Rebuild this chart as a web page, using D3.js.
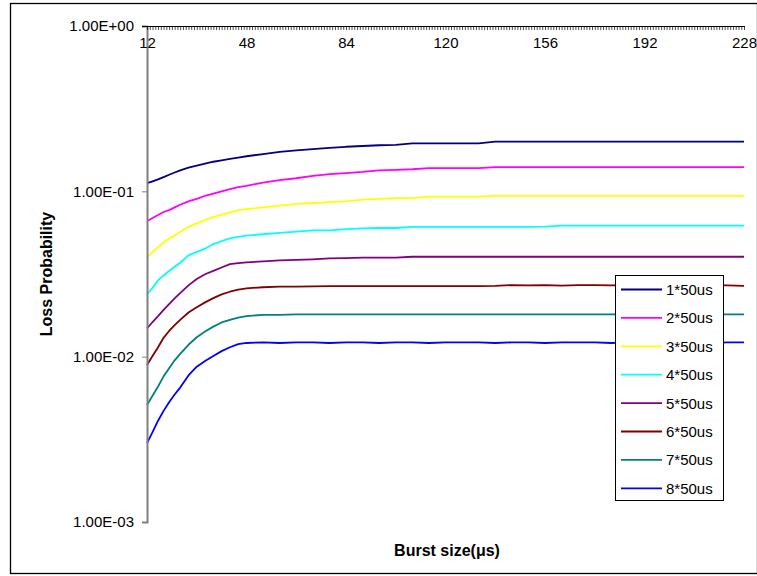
<!DOCTYPE html>
<html>
<head>
<meta charset="utf-8">
<script src="https://cdn.jsdelivr.net/npm/d3@7"></script>
<style>
  body { margin: 0; background: #fff; }
  svg { display: block; font-family: Arial, "Liberation Sans", sans-serif; }
</style>
</head>
<body>
<svg id="chart" width="757" height="576"></svg>
<script>
// ---- data ----
const burstSizes = [12,14,16,18,20,22,24,27,30,33,36,39,42,45,48,54,60,66,72,78,84,90,96,102,108,114,120,126,132,138,144,150,156,162,168,174,180,186,192,198,204,210,216,222,228];

const seriesNames = ["1*50us","2*50us","3*50us","4*50us","5*50us","6*50us","7*50us","8*50us"];
const seriesColors = ["#000080","#FF00FF","#FFFF00","#00FFFF","#800080","#800000","#008080","#0000FF"];

const s1 = [0.112,0.115,0.118,0.122,0.126,0.130,0.134,0.139,0.143,0.147,0.151,0.154,0.157,0.160,0.163,0.168,0.173,0.177,0.180,0.183,0.186,0.188,0.190,0.191,0.195,0.195,0.195,0.195,0.195,0.200,0.200,0.200,0.200,0.200,0.200,0.200,0.200,0.200,0.200,0.200,0.200,0.200,0.200,0.200,0.200];
const s2 = [0.066,0.069,0.072,0.075,0.077,0.080,0.083,0.087,0.090,0.094,0.097,0.100,0.103,0.106,0.108,0.113,0.117,0.120,0.124,0.127,0.129,0.131,0.134,0.135,0.136,0.138,0.138,0.138,0.138,0.140,0.140,0.140,0.140,0.140,0.140,0.140,0.140,0.140,0.140,0.140,0.140,0.140,0.140,0.140,0.140];
const s3 = [0.040,0.043,0.046,0.049,0.052,0.054,0.057,0.061,0.064,0.067,0.070,0.072,0.0745,0.0766,0.078,0.080,0.082,0.084,0.085,0.086,0.087,0.089,0.090,0.091,0.091,0.093,0.093,0.093,0.093,0.094,0.094,0.094,0.094,0.094,0.094,0.094,0.094,0.094,0.094,0.094,0.094,0.094,0.094,0.094,0.094];
const s4 = [0.024,0.026,0.029,0.031,0.033,0.035,0.037,0.041,0.043,0.045,0.048,0.050,0.052,0.053,0.054,0.055,0.056,0.057,0.058,0.058,0.059,0.0597,0.060,0.060,0.061,0.061,0.061,0.061,0.061,0.061,0.061,0.061,0.0612,0.062,0.062,0.062,0.062,0.062,0.062,0.062,0.062,0.062,0.062,0.062,0.062];
const s5 = [0.0148,0.0162,0.0176,0.0192,0.0208,0.0225,0.0242,0.0270,0.0295,0.0315,0.0330,0.0346,0.0363,0.0368,0.0372,0.0377,0.0382,0.0385,0.0388,0.0393,0.0395,0.0397,0.0397,0.0397,0.0402,0.0402,0.0402,0.0402,0.0402,0.0402,0.0402,0.0402,0.0402,0.0402,0.0402,0.0402,0.0402,0.0402,0.0402,0.0402,0.0402,0.0402,0.0402,0.0402,0.0402];
const s6 = [0.0089,0.0101,0.0114,0.0130,0.0143,0.0155,0.0167,0.0185,0.0199,0.0213,0.0226,0.0238,0.0247,0.0254,0.0259,0.0263,0.0265,0.0265,0.0266,0.0267,0.0267,0.0267,0.0267,0.0267,0.0267,0.0267,0.0267,0.0267,0.0267,0.0268,0.0271,0.0270,0.0271,0.0269,0.0271,0.0271,0.0270,0.0271,0.0270,0.0271,0.0270,0.0271,0.0271,0.0270,0.0268];
const s7 = [0.0051,0.0058,0.0066,0.0076,0.0085,0.0095,0.0104,0.0118,0.0131,0.0142,0.0152,0.0161,0.0167,0.0172,0.0176,0.0179,0.0179,0.0180,0.0180,0.0180,0.0180,0.0180,0.0180,0.0180,0.0180,0.0180,0.0180,0.0180,0.0180,0.0180,0.0180,0.0180,0.0180,0.0180,0.0180,0.0180,0.0180,0.0180,0.0180,0.0180,0.0180,0.0180,0.0180,0.0180,0.0180];
const s8 = [0.0030,0.0035,0.0041,0.0047,0.0053,0.0059,0.0065,0.0077,0.0087,0.0094,0.0101,0.0108,0.0114,0.0119,0.0121,0.0122,0.0121,0.0122,0.0122,0.0121,0.0122,0.0122,0.0121,0.0122,0.0122,0.0121,0.0122,0.0122,0.0122,0.0121,0.0122,0.0122,0.0121,0.0122,0.0122,0.0122,0.0121,0.0122,0.0122,0.0121,0.0122,0.0122,0.0121,0.0122,0.0122];
const seriesValues = [s1,s2,s3,s4,s5,s6,s7,s8];

const xTickLabels = [12,48,84,120,156,192,228];
const yTickValues = [1,0.1,0.01,0.001];
const yTickLabels = ["1.00E+00","1.00E-01","1.00E-02","1.00E-03"];

// ---- layout ----
const svg = d3.select("#chart");
const plot = {left:147, right:744, top:26, bottom:522};

// outer border
svg.append("rect").attr("x",10.5).attr("y",3.5).attr("width",747).attr("height",570)
  .attr("fill","none").attr("stroke","#000").attr("stroke-width",1.3);

const x = d3.scaleLinear().domain([12,228]).range([plot.left, plot.right]);
const y = d3.scaleLog().domain([0.001,1]).range([plot.bottom, plot.top]);

// lines
const line = d3.line().x((d,i)=>x(burstSizes[i])).y(d=>y(d));
seriesValues.forEach((vals,k)=>{
  svg.append("path").datum(vals).attr("d",line)
    .attr("fill","none").attr("stroke",seriesColors[k]).attr("stroke-width",1.8)
    .attr("stroke-linejoin","round");
});

// y axis (left)
const yAxis = d3.axisLeft(y).tickValues(yTickValues)
  .tickFormat((d,i)=>yTickLabels[i]).tickSize(5).tickPadding(8);
const gy = svg.append("g").attr("transform",`translate(${plot.left},0)`).call(yAxis);
gy.select(".domain").attr("stroke","#808080").attr("stroke-width",2);
gy.selectAll(".tick line").attr("stroke","#808080");
gy.selectAll(".tick text").attr("font-size",15).attr("fill","#000")
  .attr("font-family","Arial, 'Liberation Sans', sans-serif");

// x axis (top, crossing at 1.00E+00)
const xAxis = d3.axisBottom(x).tickValues(d3.range(12,229,1))
  .tickFormat(d=> xTickLabels.includes(d) ? d : "").tickSize(4).tickPadding(7).tickSizeOuter(0);
const gx = svg.append("g").attr("transform",`translate(0,${plot.top})`).call(xAxis);
gx.select(".domain").attr("stroke","#000").attr("stroke-width",1).attr("d",`M${plot.left-5},0.5H${plot.right+1}`);
gx.selectAll(".tick line").attr("stroke","#000").attr("stroke-width",0.7);
gx.selectAll(".tick text").attr("font-size",15).attr("fill","#000")
  .attr("font-family","Arial, 'Liberation Sans', sans-serif");

// axis titles
svg.append("text").attr("x",447).attr("y",556).attr("text-anchor","middle")
  .attr("font-size",16).attr("font-weight","bold").text("Burst size(μs)");
svg.append("text").attr("transform","translate(52,274) rotate(-90)").attr("text-anchor","middle")
  .attr("font-size",16).attr("font-weight","bold").text("Loss Probability");

// legend
const lg = svg.append("g").attr("transform","translate(615,275)");
lg.append("rect").attr("x",0.5).attr("y",0.5).attr("width",108).attr("height",225)
  .attr("fill","#fff").attr("stroke","#000").attr("stroke-width",1);
seriesNames.forEach((n,k)=>{
  const yy = 14.5 + k*28.4;
  lg.append("line").attr("x1",6).attr("x2",47).attr("y1",yy).attr("y2",yy)
    .attr("stroke",seriesColors[k]).attr("stroke-width",1.8);
  lg.append("text").attr("x",51).attr("y",yy).attr("dy","0.36em")
    .attr("font-size",15).text(n);
});
</script>
</body>
</html>
